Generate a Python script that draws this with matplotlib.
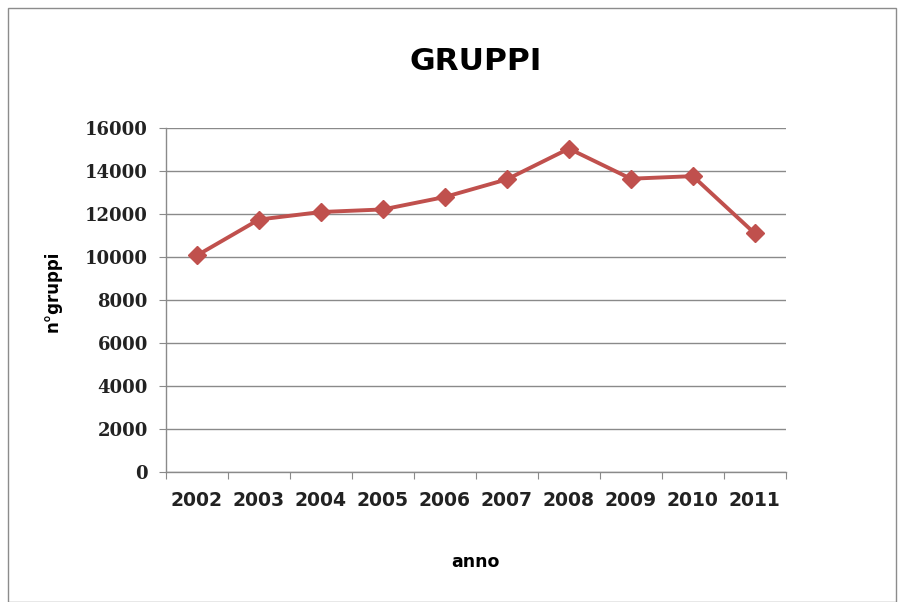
import numpy as np
import matplotlib.pyplot as plt
from matplotlib.patches import Rectangle

anni = ['2002', '2003', '2004', '2005', '2006', '2007', '2008', '2009', '2010', '2011']
gruppi = [10080, 11750, 12100, 12220, 12800, 13620, 15050, 13650, 13770, 11100]
yticks = [0, 2000, 4000, 6000, 8000, 10000, 12000, 14000, 16000]

fig = plt.figure(figsize=(9.01, 6.02), dpi=100)
ax = fig.add_axes([0.1842, 0.216, 0.688, 0.571])

# bordo esterno del grafico
fig.patches.append(Rectangle((0.009, 0.0), 0.985, 0.987, transform=fig.transFigure,
                             fill=False, edgecolor='#8c8c8c', linewidth=1))

x = np.arange(len(anni))
ax.plot(x, gruppi, color='#c0504d', linewidth=2.8, marker='D', markersize=9.5,
        markeredgecolor='#c0504d', zorder=3)

ax.set_xlim(-0.5, len(anni) - 0.5)
ax.set_ylim(0, 16000)
ax.set_yticks(yticks)
ax.set_yticklabels([str(v) for v in yticks], fontfamily='DejaVu Serif',
                   fontweight='bold', fontsize=13, color='#222222')
ax.yaxis.grid(True, color='#8a8a8a', linewidth=1)
ax.set_axisbelow(True)

# tacche tra le categorie, etichette al centro
ax.set_xticks(np.arange(-0.5, len(anni), 1.0))
ax.set_xticklabels([])
ax.set_xticks(x, minor=True)
ax.set_xticklabels(anni, minor=True, fontfamily='DejaVu Sans', fontweight='bold',
                   fontsize=13.5, color='#222222')
ax.tick_params(axis='x', which='minor', length=0, pad=14)
ax.tick_params(axis='x', which='major', length=5, color='#8a8a8a', direction='out')
ax.tick_params(axis='y', length=5, color='#8a8a8a', direction='out', pad=8)

for s in ['top', 'right']:
    ax.spines[s].set_visible(False)
for s in ['left', 'bottom']:
    ax.spines[s].set_color('#8a8a8a')
    ax.spines[s].set_linewidth(1)

ax.set_title('GRUPPI', fontfamily='DejaVu Sans', fontweight='bold', fontsize=22.5,
             pad=42)
ax.set_xlabel('anno', fontfamily='DejaVu Sans', fontweight='bold', fontsize=12.5,
              labelpad=31)
ax.set_ylabel('n°gruppi', fontfamily='DejaVu Sans', fontweight='bold', fontsize=12)
ax.yaxis.set_label_coords(-0.168, 0.526)

fig.savefig('out.png', dpi=100)
